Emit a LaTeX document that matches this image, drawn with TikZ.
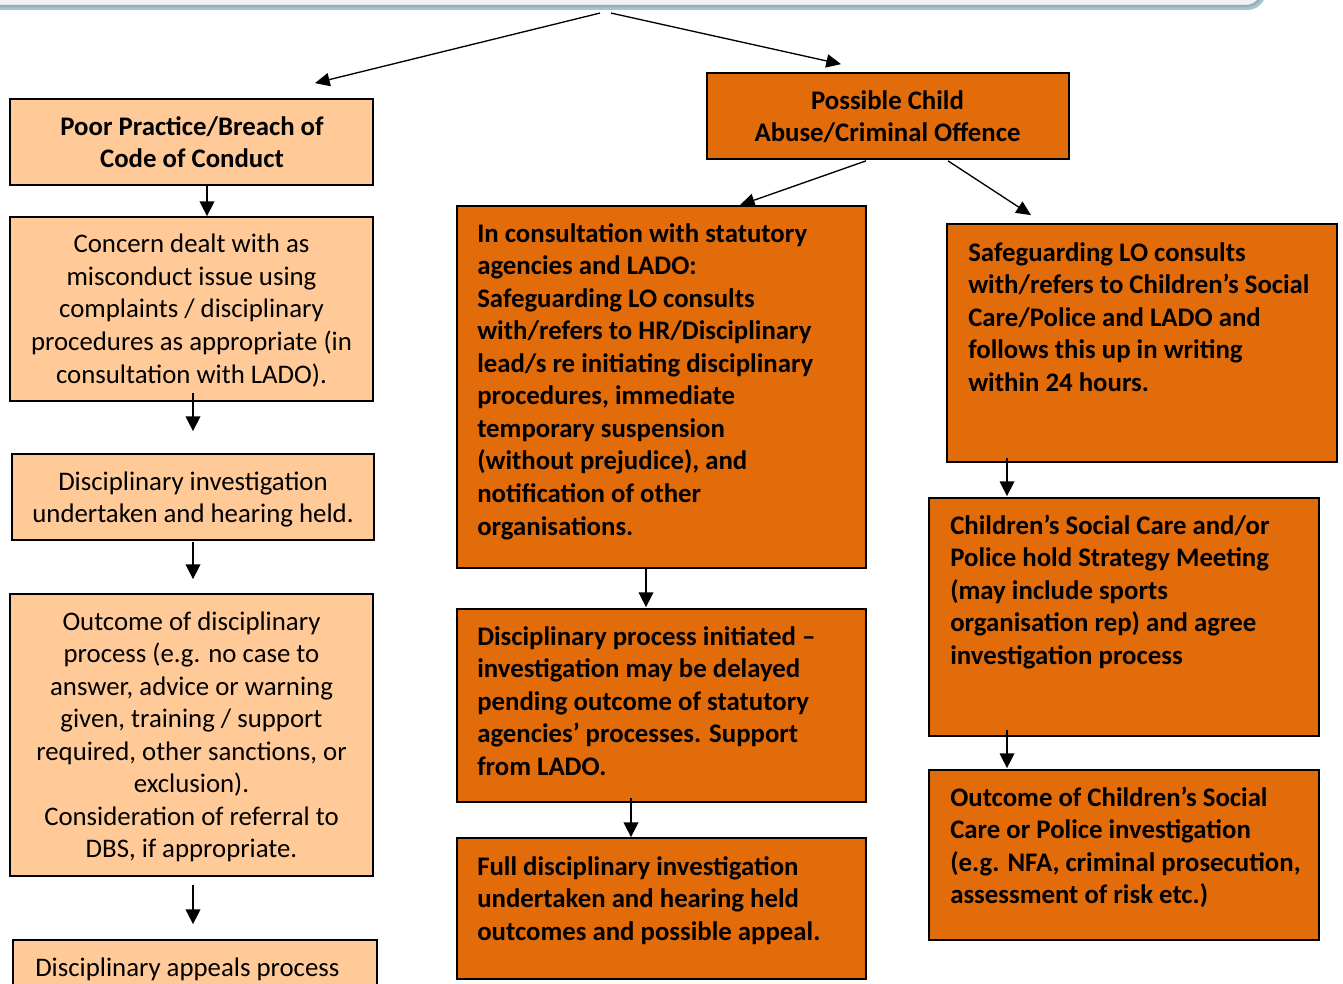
\documentclass[tikz,border=0pt]{standalone}
\usepackage{fontspec}
\setmainfont{Carlito}
\usetikzlibrary{arrows.meta,calc,fit}
\definecolor{lightor}{HTML}{FFCA97}
\definecolor{darkor}{HTML}{E36C0A}
\definecolor{barline}{HTML}{8FAFBA}
\definecolor{barshadow}{HTML}{A9C2CB}
\definecolor{barfill}{HTML}{EFF1F2}
\newcommand{\firststrut}{\rule{0pt}{20pt}}
\tikzset{
  lbox/.style={draw=black, line width=1.3pt, fill=lightor, inner sep=0pt},
  dbox/.style={draw=black, line width=1.3pt, fill=darkor, inner sep=0pt},
  txt/.style={inner sep=0pt, font=\fontsize{20.1pt}{24.4pt}\selectfont},
  btxt/.style={inner sep=0pt, font=\fontsize{20.1pt}{24.4pt}\selectfont\bfseries},
  arr/.style={line width=1pt, -{Triangle[length=11pt,width=11pt]}},
  tarr/.style={line width=1pt, -{Triangle[length=11pt,width=10pt]}}
}
\begin{document}
\begin{tikzpicture}[x=0.75pt,y=-0.75pt]
\useasboundingbox (0,0) rectangle (1343,984);
% top bar
\fill[barshadow, rounded corners=14pt] (-40,-60) rectangle (1266,10);
\node[draw=barline, line width=1.6pt, fill=barfill, rounded corners=12pt, inner sep=0pt,
      fit={(-40,-60) (1262,6)}] (top) {};
% left column boxes
\node[lbox, fit={(10,99) (373,185)}] (pp) {};
\node[lbox, fit={(10,217) (373,401)}] (cd) {};
\node[lbox, fit={(12,454) (374,540)}] (di) {};
\node[lbox, fit={(10,594) (373,876)}] (oc) {};
\node[lbox, fit={(13,940) (377,1010)}] (ap) {};
% middle / right boxes
\node[dbox, fit={(707,73) (1069,159)}] (pc) {};
\node[dbox, fit={(457,206) (866,568)}] (ic) {};
\node[dbox, fit={(457,609) (866,802)}] (dp) {};
\node[dbox, fit={(457,838) (866,979)}] (fd) {};
\node[dbox, fit={(947,224) (1337,462)}] (sg) {};
\node[dbox, fit={(929,498) (1319,736)}] (cs) {};
\node[dbox, fit={(929,770) (1319,940)}] (oc2) {};
% texts
\node[btxt, anchor=north, align=center] (ppt) at (192,108.3)
  {\firststrut Poor Practice/Breach of\\Code of Conduct};
\node[txt, anchor=north, align=center] (cdt) at (191.5,226)
  {\firststrut Concern dealt with as\\misconduct issue using\\complaints / disciplinary\\procedures as appropriate (in\\consultation with LADO).};
\node[txt, anchor=north, align=center] (dit) at (193,463.3)
  {\firststrut Disciplinary investigation\\undertaken and hearing held.};
\node[txt, anchor=north, align=center] (oct) at (191.5,603.3)
  {\firststrut Outcome of disciplinary\\process (e.g. no case to\\answer, advice or warning\\given, training / support\\required, other sanctions, or\\exclusion).\\Consideration of referral to\\DBS, if appropriate.};
\node[txt, anchor=north west, align=left] (apt) at (35,950)
  {\firststrut Disciplinary appeals process};
\node[btxt, anchor=north, align=center] (pct) at (887.5,82.3)
  {\firststrut Possible Child\\Abuse/Criminal Offence};
\node[btxt, anchor=north west, align=left] (ict) at (477,215.3)
  {\firststrut In consultation with statutory\\agencies and LADO:\\Safeguarding LO consults\\with/refers to HR/Disciplinary\\lead/s re initiating disciplinary\\procedures, immediate\\temporary suspension\\(without prejudice), and\\notification of other\\organisations.};
\node[btxt, anchor=north west, align=left] (dpt) at (477,618.3)
  {\firststrut Disciplinary process initiated –\\investigation may be delayed\\pending outcome of statutory\\agencies’ processes. Support\\from LADO.};
\node[btxt, anchor=north west, align=left] (fdt) at (477,848.3)
  {\firststrut Full disciplinary investigation\\undertaken and hearing held\\outcomes and possible appeal.};
\node[btxt, anchor=north west, align=left] (sgt) at (968,234.3)
  {\firststrut Safeguarding LO consults\\with/refers to Children’s Social\\Care/Police and LADO and\\follows this up in writing\\within 24 hours.};
\node[btxt, anchor=north west, align=left] (cst) at (950,507.3)
  {\firststrut Children’s Social Care and/or\\Police hold Strategy Meeting\\(may include sports\\organisation rep) and agree\\investigation process};
\node[btxt, anchor=north west, align=left] (oc2t) at (950,779.3)
  {\firststrut Outcome of Children’s Social\\Care or Police investigation\\(e.g. NFA, criminal prosecution,\\assessment of risk etc.)};
% connectors
\draw[tarr] ($(top.south)+(-11,6)$) -- ($(pp.north)+(123.5,-15)$);
\draw[tarr] ($(top.south)+(0,6)$) -- ($(pc.north)+(-47,-8)$);
\draw[arr] ($(pp.south)+(15.5,0)$) -- ($(cd.north)+(15.5,0)$);
\draw[arr] ($(cd.south)+(1.5,-9)$) -- ($(di.north)+(0,-22)$);
\draw[arr] ($(di.south)+(0,1)$) -- ($(oc.north)+(1.5,-14)$);
\draw[arr] ($(oc.south)+(1.5,8)$) -- ($(ap.north)+(-2,-15)$);
\draw[tarr] ($(pc.south)+(-22,1)$) -- ($(ic.north)+(78.5,0)$);
\draw[tarr] ($(pc.south)+(60,1)$) -- ($(sg.north)+(-111,-8)$);
\draw[arr] ($(ic.south)+(-15.5,0)$) -- ($(dp.north)+(-15.5,-1)$);
\draw[arr] ($(dp.south)+(-30.5,-5)$) -- ($(fd.north)+(-30.5,0)$);
\draw[arr] ($(sg.south)+(-135,-5)$) -- ($(cs.north)+(-117,-1)$);
\draw[arr] ($(cs.south)+(-117,-7)$) -- ($(oc2.north)+(-117,-1)$);
\end{tikzpicture}
\end{document}
